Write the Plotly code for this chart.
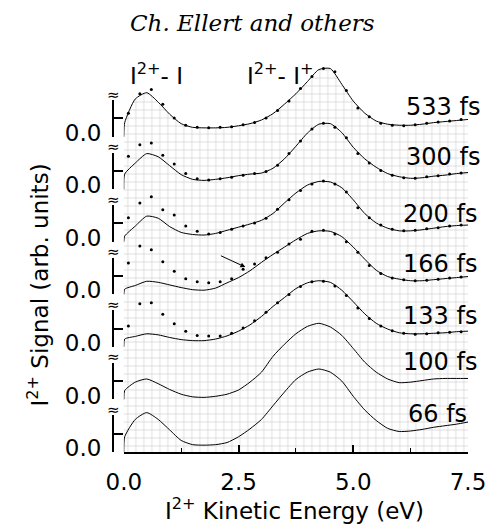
import plotly.graph_objects as go

# ---------------- data ----------------
labels = ["533 fs", "300 fs", "200 fs", "166 fs", "133 fs", "100 fs", "66 fs"]
offsets = [6, 5, 4, 3, 2, 1, 0]

E = [0, 0.02, 0.25, 0.5, 0.75, 1.0, 1.25, 1.5, 1.75, 2.0, 2.25, 2.5, 2.75, 3.0,
     3.25, 3.5, 3.75, 4.0, 4.25, 4.5, 4.75, 5.0, 5.25, 5.5, 5.75, 6.0, 6.25,
     6.5, 6.75, 7.0, 7.25, 7.5]

fit_533 = [0, 0.27, 0.72, 0.84, 0.66, 0.43, 0.25, 0.18, 0.17, 0.17, 0.18, 0.21, 0.25, 0.32,
           0.44, 0.62, 0.82, 1.05, 1.28, 1.30, 1.00, 0.68, 0.45, 0.30, 0.24, 0.22, 0.22,
           0.24, 0.27, 0.29, 0.31, 0.33]
fit_300 = [0, 0.29, 0.50, 0.68, 0.62, 0.45, 0.28, 0.19, 0.17, 0.19, 0.22, 0.26, 0.29, 0.31,
           0.40, 0.58, 0.82, 1.07, 1.24, 1.25, 1.08, 0.80, 0.58, 0.42, 0.30, 0.24, 0.21,
           0.22, 0.25, 0.27, 0.30, 0.32]
fit_200 = [0, 0.11, 0.30, 0.49, 0.45, 0.29, 0.18, 0.14, 0.13, 0.16, 0.22, 0.28, 0.34, 0.41,
           0.54, 0.74, 0.93, 1.08, 1.15, 1.14, 1.03, 0.80, 0.54, 0.36, 0.26, 0.21, 0.21,
           0.23, 0.26, 0.29, 0.31, 0.32]
fit_166 = [0, 0.10, 0.17, 0.25, 0.23, 0.18, 0.13, 0.09, 0.08, 0.12, 0.22, 0.32, 0.45, 0.61,
           0.76, 0.90, 1.04, 1.16, 1.21, 1.20, 1.10, 0.90, 0.67, 0.46, 0.34, 0.29, 0.26,
           0.26, 0.28, 0.30, 0.32, 0.34]
fit_133 = [0, 0.15, 0.20, 0.25, 0.23, 0.18, 0.14, 0.12, 0.12, 0.15, 0.21, 0.30, 0.42, 0.58,
           0.77, 0.94, 1.11, 1.22, 1.26, 1.23, 1.08, 0.86, 0.63, 0.45, 0.34, 0.27, 0.25,
           0.25, 0.26, 0.27, 0.29, 0.30]
fit_100 = [0, 0.17, 0.33, 0.39, 0.30, 0.19, 0.10, 0.05, 0.04, 0.06, 0.10, 0.18, 0.33, 0.52,
           0.82, 1.05, 1.25, 1.39, 1.45, 1.38, 1.22, 0.97, 0.71, 0.52, 0.39, 0.32, 0.33,
           0.36, 0.39, 0.40, 0.40, 0.40]
fit_66 = [0, 0.29, 0.62, 0.75, 0.62, 0.42, 0.22, 0.14, 0.13, 0.14, 0.18, 0.29, 0.44, 0.62,
          0.88, 1.14, 1.38, 1.52, 1.58, 1.52, 1.35, 1.06, 0.80, 0.60, 0.45, 0.39, 0.40,
          0.43, 0.47, 0.50, 0.53, 0.57]

DOT_E = [0.10, 0.35, 0.60, 0.85, 1.10, 1.35, 1.60, 1.85, 2.10, 2.35, 2.60, 2.85, 3.10,
         3.35, 3.60, 3.85, 4.10, 4.35, 4.60, 4.85, 5.10, 5.35, 5.60, 5.85, 6.10, 6.35,
         6.60, 6.85, 7.10, 7.35]
dots_533 = [0.45, 0.82, 0.90, 0.62, 0.36, 0.22, 0.18, 0.17, 0.18, 0.19, 0.23, 0.27, 0.36,
            0.50, 0.68, 0.92, 1.15, 1.30, 1.24, 0.88, 0.55, 0.38, 0.26, 0.22, 0.21, 0.23,
            0.26, 0.28, 0.30, 0.33]
dots_300 = [0.63, 0.85, 0.88, 0.65, 0.48, 0.30, 0.20, 0.18, 0.20, 0.23, 0.27, 0.30, 0.34,
            0.46, 0.68, 0.92, 1.15, 1.26, 1.18, 0.98, 0.68, 0.50, 0.36, 0.27, 0.22, 0.21,
            0.24, 0.26, 0.29, 0.31]
dots_200 = [0.46, 0.74, 0.86, 0.61, 0.51, 0.30, 0.20, 0.15, 0.18, 0.24, 0.30, 0.36, 0.45,
            0.62, 0.80, 0.98, 1.10, 1.16, 1.10, 0.95, 0.65, 0.46, 0.32, 0.24, 0.21, 0.22,
            0.25, 0.27, 0.30, 0.32]
dots_166 = [0.60, 0.92, 0.85, 0.62, 0.44, 0.30, 0.24, 0.22, 0.24, 0.30, 0.48, 0.58, 0.70,
            0.80, 0.96, 1.05, 1.20, 1.22, 1.15, 1.00, 0.80, 0.55, 0.40, 0.31, 0.28, 0.26,
            0.27, 0.29, 0.31, 0.33]
dots_133 = [0.40, 0.82, 0.84, 0.62, 0.44, 0.30, 0.22, 0.21, 0.21, 0.26, 0.36, 0.50, 0.66,
            0.84, 1.00, 1.15, 1.24, 1.25, 1.16, 0.98, 0.74, 0.54, 0.40, 0.31, 0.26, 0.24,
            0.25, 0.27, 0.28, 0.29]

fits = [fit_533, fit_300, fit_200, fit_166, fit_133, fit_100, fit_66]
dots = [dots_533, dots_300, dots_200, dots_166, dots_133, None, None]

x_ticks = [0, 2.5, 5.0, 7.5]
x_ticktext = ["0.0", "2.5", "5.0", "7.5"]

# ---------------- geometry / styling ----------------
W, H = 498, 524
ML, MR, MT, MB = 113, 23, 58, 72
PW, PH = W - ML - MR, H - MT - MB
Y_RANGE = 7.5
seg_units = 0.70          # visible length of each panel's axis segment
label_right_px = [489, 489, 486, 486, 486, 486, 476]
label_dy = [0.57, 0.62, 0.53, 0.58, 0.59, 0.71, 0.72]

SANS = "DejaVu Sans"
fig = go.Figure()

pattern = dict(shape="+", size=8, solidity=0.1, fgcolor="#a6a6a6",
               bgcolor="white", fgopacity=0.85)

for lab, off, f, d in zip(labels, offsets, fits, dots):
    fig.add_trace(go.Scatter(
        x=E, y=[v + off for v in f], mode="lines",
        line=dict(color="black", width=1, shape="spline", smoothing=0.6),
        fill="tozeroy", fillcolor="white", fillpattern=pattern,
        showlegend=False, hoverinfo="skip"))
    if d is not None:
        fig.add_trace(go.Scatter(
            x=DOT_E, y=[v + off for v in d], mode="markers",
            marker=dict(color="black", size=3),
            showlegend=False, hoverinfo="skip"))

layout_axes = {}
annotations = []
for k, (lab, off) in enumerate(zip(labels, offsets)):
    ax_name = "yaxis%d" % (k + 2)
    lo = off / Y_RANGE
    hi = (off + seg_units) / Y_RANGE
    layout_axes[ax_name] = dict(
        domain=[lo, hi], anchor="free", position=0, range=[0, 1],
        tickvals=[0, 0.5, 1], ticktext=["0.0", "", ""],
        ticks="inside", ticklen=9, tickwidth=2, tickcolor="black",
        showline=True, linewidth=2, linecolor="black",
        showgrid=False, zeroline=False, ticklabelshift=-4, ticklabelstandoff=6,
        tickfont=dict(family=SANS, size=23, color="black"))
    fig.add_trace(go.Scatter(x=[None], y=[None], xaxis="x", yaxis="y%d" % (k + 2),
                             showlegend=False, hoverinfo="skip"))
    # break symbol
    annotations.append(dict(xref="paper", yref="y", x=0, y=off + seg_units + 0.1,
                            text="≈", showarrow=False, xanchor="center", yanchor="middle",
                            font=dict(family=SANS, size=15, color="black")))
    # delay label
    annotations.append(dict(xref="paper", yref="y", x=(label_right_px[k] - ML) / PW,
                            y=off + label_dy[k],
                            text=lab, showarrow=False, xanchor="right", yanchor="middle",
                            font=dict(family=SANS, size=24, color="black")))

annotations += [
    dict(xref="x", yref="y", x=0.1, y=7.2, text="I<sup>2+</sup>- I", showarrow=False,
         xanchor="left", yanchor="middle", font=dict(family=SANS, size=23, color="black")),
    dict(xref="x", yref="y", x=2.65, y=7.2, text="I<sup>2+</sup>- I<sup>+</sup>", showarrow=False,
         xanchor="left", yanchor="middle", font=dict(family=SANS, size=23, color="black")),
    dict(xref="x", yref="y", x=2.65, y=3.52, ax=-26, ay=-12, text="", showarrow=True,
         arrowhead=2, arrowsize=1, arrowwidth=1, arrowcolor="black"),
    dict(xref="paper", yref="paper", x=(255 - ML) / PW, y=(H - MB - 23) / PH,
         text="<i>Ch. Ellert and others</i>", showarrow=False, xanchor="center", yanchor="middle",
         font=dict(family="DejaVu Serif", size=23, color="black")),
    dict(xref="paper", yref="paper", x=(298 - ML) / PW, y=(H - MB - 509) / PH,
         text="I<sup>2+</sup> Kinetic Energy (eV)", showarrow=False, xanchor="center",
         yanchor="middle", font=dict(family=SANS, size=23, color="black")),
    dict(xref="paper", yref="paper", x=(37 - ML) / PW, y=(H - MB - 285) / PH,
         text="I<sup>2+</sup> Signal (arb. units)", showarrow=False, textangle=-90,
         xanchor="center", yanchor="middle", font=dict(family=SANS, size=23, color="black")),
]

fig.update_layout(
    width=W, height=H, margin=dict(l=ML, r=MR, t=MT, b=MB),
    paper_bgcolor="white", plot_bgcolor="rgba(0,0,0,0)",
    xaxis=dict(domain=[(124 - ML) / PW, 1], range=[0, 7.5], anchor="y",
               tickvals=x_ticks, ticktext=x_ticktext, ticks="inside", ticklen=7,
               tickwidth=1.5, tickcolor="black", showline=True, linewidth=1.5,
               linecolor="black", showgrid=False, zeroline=False, ticklabelstandoff=9,
               minor=dict(tickvals=[1.25, 3.75, 6.25], ticks="inside", ticklen=4,
                          tickwidth=1, tickcolor="black"),
               tickfont=dict(family=SANS, size=23, color="black")),
    yaxis=dict(domain=[0, 1], range=[0, Y_RANGE], visible=False, fixedrange=True),
    annotations=annotations,
    **layout_axes,
)

fig.write_html("out.html")
